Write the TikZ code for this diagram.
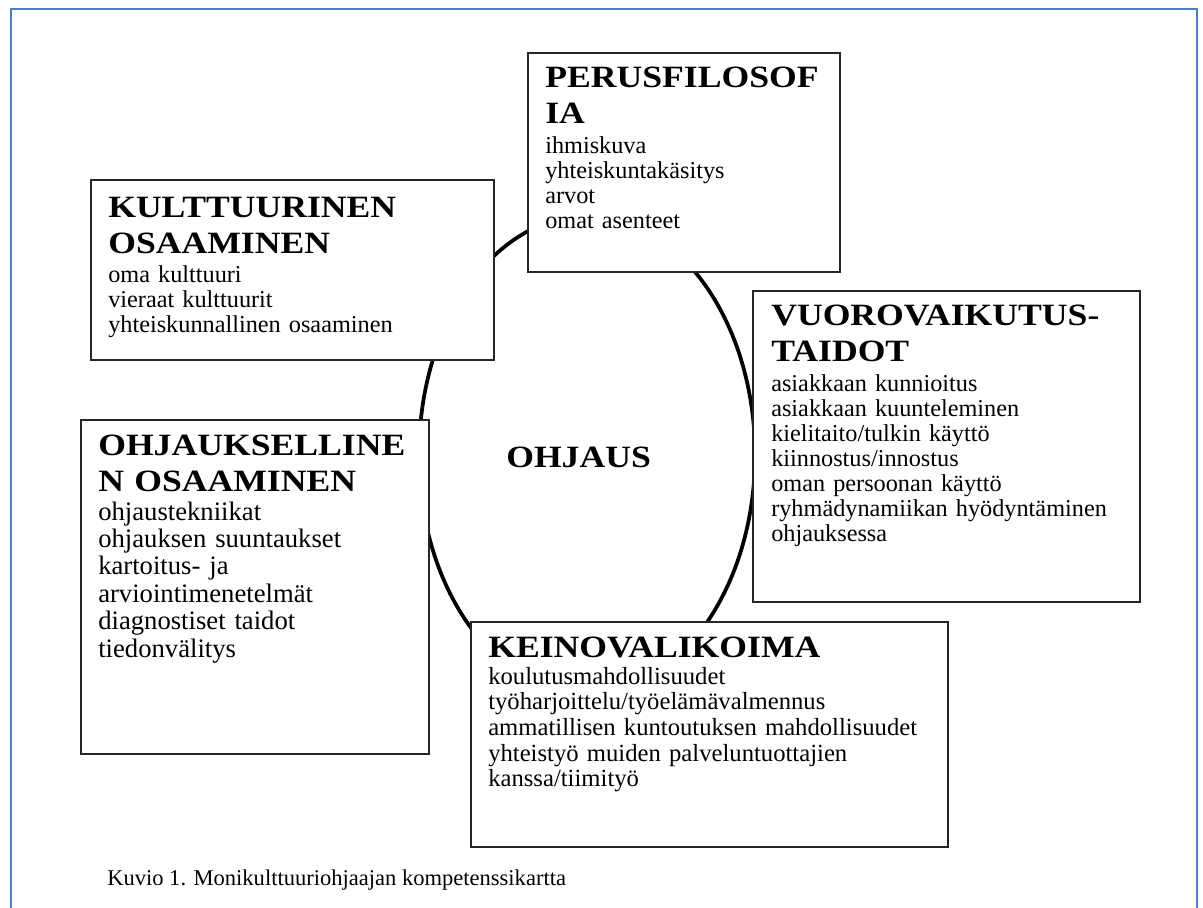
\documentclass[tikz,border=0pt]{standalone}
\usepackage{fontspec}
\setmainfont{Liberation Serif}
\newfontfamily\otsikkofont[FakeStretch=1.15]{Liberation Serif}
\usetikzlibrary{shapes.geometric,positioning}
\definecolor{kehys}{HTML}{4F81BD}

\begin{document}
\begin{tikzpicture}[x=0.75pt, y=-0.75pt,
  ala/.style={rectangle, draw=black!85, line width=1.4pt, fill=white, anchor=north west, inner sep=0pt},
  otsikko/.style={anchor=base west, inner sep=0pt, text width=400pt, align=left, font=\otsikkofont\bfseries\fontsize{23.25}{27.5}\selectfont},
  teksti/.style={anchor=base west, inner sep=0pt, text width=400pt, align=left, font=\fontsize{18.2}{18.75}\selectfont}]

  \useasboundingbox (0,0) rectangle (1203,907);
  \fill[white] (0,0) rectangle (1203,907);
  % page frame
  \draw[kehys, line width=1.5pt] (11,920) |- (1197,9) -- (1197,920);

  % centre
  \node[draw, ellipse, line width=2.8pt, minimum width=252pt, minimum height=358.5pt, inner sep=0pt] (kaari) at (587,455) {};
  \node[otsikko, text width=] (ohjaus) at (506,467) {OHJAUS};

  % boxes
  \node[ala, minimum width=234pt, minimum height=164.25pt] (perus) at (527,52) {};
  \node[ala, minimum width=302.25pt, minimum height=135pt] (kult) at (90,179) {};
  \node[ala, minimum width=290.25pt, minimum height=233.25pt] (vuoro) at (752,290) {};
  \node[ala, minimum width=261pt, minimum height=250.5pt] (ohj) at (80,419) {};
  \node[ala, minimum width=357.75pt, minimum height=168.75pt] (keino) at (470,621) {};

  \node[otsikko] (perus-otsikko) at ([shift={(18,35)}]perus.north west) {PERUSFILOSOF\\IA};
  \node[teksti] (perus-teksti) at ([shift={(18,101)}]perus.north west) {ihmiskuva\\yhteiskuntakäsitys\\arvot\\omat asenteet};

  \node[otsikko] (kult-otsikko) at ([shift={(18,38)}]kult.north west) {KULTTUURINEN\\OSAAMINEN};
  \node[teksti, font=\fontsize{18.2}{19.1}\selectfont] (kult-teksti) at ([shift={(18,103)}]kult.north west) {oma kulttuuri\\vieraat kulttuurit\\yhteiskunnallinen osaaminen};

  \node[otsikko] (vuoro-otsikko) at ([shift={(19,35)}]vuoro.north west) {VUOROVAIKUTUS-\\TAIDOT};
  \node[teksti] (vuoro-teksti) at ([shift={(19,101)}]vuoro.north west) {asiakkaan kunnioitus\\asiakkaan kuunteleminen\\kielitaito/tulkin käyttö\\kiinnostus/innostus\\oman persoonan käyttö\\ryhmädynamiikan hyödyntäminen\\ohjauksessa};

  \node[otsikko] (ohj-otsikko) at ([shift={(18,36)}]ohj.north west) {OHJAUKSELLINE\\N OSAAMINEN};
  \node[teksti, font=\fontsize{20}{20.6}\selectfont] (ohj-teksti) at ([shift={(18,101)}]ohj.north west) {ohjaustekniikat\\ohjauksen suuntaukset\\kartoitus- ja\\arviointimenetelmät\\diagnostiset taidot\\tiedonvälitys};

  \node[otsikko] (keino-otsikko) at ([shift={(18,36)}]keino.north west) {KEINOVALIKOIMA};
  \node[teksti, font=\fontsize{18.5}{19.3}\selectfont] (keino-teksti) at ([shift={(18,63)}]keino.north west) {koulutusmahdollisuudet\\työharjoittelu/työelämävalmennus\\ammatillisen kuntoutuksen mahdollisuudet\\yhteistyö muiden palveluntuottajien\\kanssa/tiimityö};

  % caption
  \node[anchor=base west, inner sep=0pt, font=\fontsize{16.9}{20}\selectfont] (kuvio) at (107,885) {Kuvio 1. Monikulttuuriohjaajan kompetenssikartta};

\end{tikzpicture}
\end{document}
